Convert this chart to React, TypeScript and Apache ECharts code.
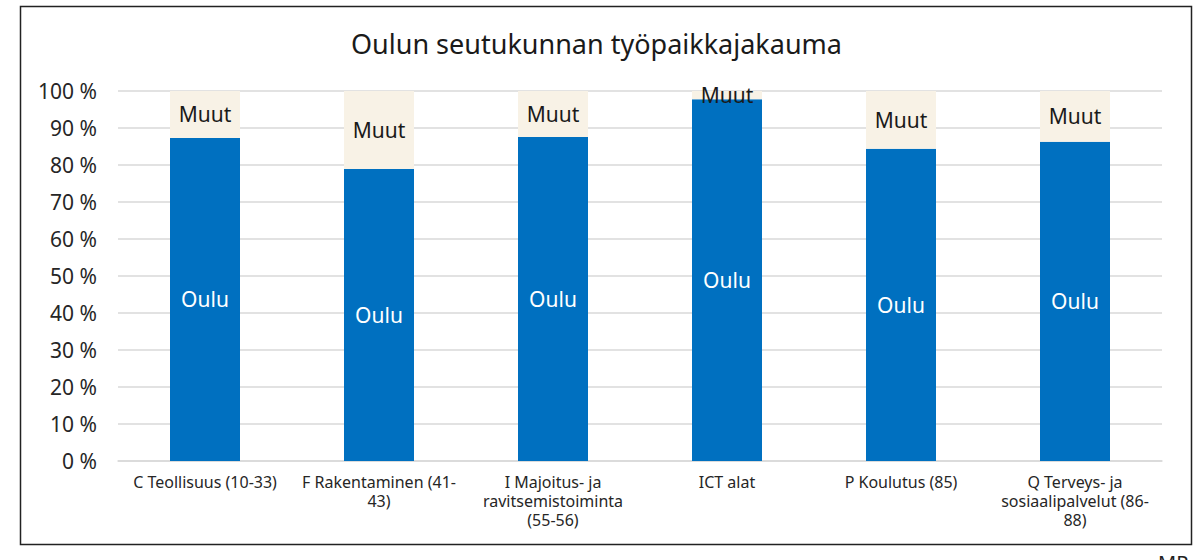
import React, { useEffect, useRef } from "react";
import * as echarts from "echarts";

const categories = [
  "C Teollisuus (10-33)",
  "F Rakentaminen (41-\n43)",
  "I Majoitus- ja\nravitsemistoiminta\n(55-56)",
  "ICT alat",
  "P Koulutus (85)",
  "Q Terveys- ja\nsosiaalipalvelut (86-\n88)",
];
const ouluValues = [87.3, 78.9, 87.6, 97.8, 84.4, 86.3];
const muutValues = [12.7, 21.1, 12.4, 2.2, 15.6, 13.7];
const seriesNames = ["Oulu", "Muut"];
const titleText = "Oulun seutukunnan työpaikkajakauma";

const FONT = "Noto Sans";

export default function App() {
  const ref = useRef<HTMLDivElement>(null);
  useEffect(() => {
    if (!ref.current) return;
    const chart = echarts.init(ref.current, undefined, { renderer: "svg" });
    chart.setOption({
      animation: false,
      backgroundColor: "#ffffff",
      textStyle: { fontFamily: FONT },
      title: {
        text: titleText,
        left: "center",
        top: 25,
        textStyle: { fontFamily: FONT, fontSize: 27, fontWeight: "normal", color: "#1a1a1a" },
      },
      grid: { left: 118, right: 31, top: 91, bottom: 99 },
      xAxis: {
        type: "category",
        data: categories,
        axisLine: { show: true, lineStyle: { color: "#d9d9d9", width: 1.5 } },
        axisTick: { show: false },
        axisLabel: {
          interval: 0,
          margin: 11,
          fontFamily: FONT,
          fontSize: 16,
          lineHeight: 19,
          color: "#262626",
        },
      },
      yAxis: {
        type: "value",
        min: 0,
        max: 100,
        interval: 10,
        axisLine: { show: false },
        axisTick: { show: false },
        splitLine: { lineStyle: { color: "#d9d9d9", width: 1.5 } },
        axisLabel: {
          formatter: "{value} %",
          margin: 21,
          fontFamily: FONT,
          fontSize: 21,
          color: "#262626",
        },
      },
      series: [
        {
          name: seriesNames[0],
          type: "bar",
          stack: "total",
          barWidth: 70,
          data: ouluValues,
          itemStyle: { color: "#0070c0" },
          label: {
            show: true,
            position: "inside",
            formatter: seriesNames[0],
            color: "#ffffff",
            fontFamily: FONT,
            fontSize: 21,
          },
        },
        {
          name: seriesNames[1],
          type: "bar",
          stack: "total",
          barWidth: 70,
          data: muutValues,
          itemStyle: { color: "#f8f2e6" },
          label: {
            show: true,
            position: "inside",
            formatter: seriesNames[1],
            color: "#1a1a1a",
            fontFamily: FONT,
            fontSize: 21,
          },
        },
      ],
      graphic: [
        {
          type: "rect",
          shape: { x: 20.5, y: 6.5, width: 1171, height: 538 },
          style: { fill: "none", stroke: "#222222", lineWidth: 1.5 },
          silent: true,
        },
        {
          type: "text",
          left: 1158,
          top: 552,
          style: { text: "MP", fontSize: 20, fontFamily: FONT, fill: "#222222" },
        },
      ],
    });
    return () => chart.dispose();
  }, []);
  return (
    <div
      ref={ref}
      style={{ position: "fixed", left: 0, top: 0, width: 1193, height: 560 }}
    />
  );
}
